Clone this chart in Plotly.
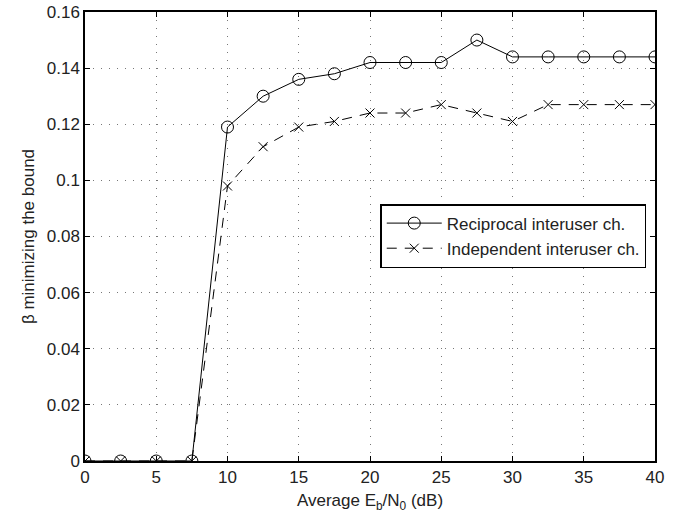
import plotly.graph_objects as go

snr_db = [0, 2.5, 5, 7.5, 10, 12.5, 15, 17.5, 20, 22.5, 25, 27.5, 30, 32.5, 35, 37.5, 40]
beta_reciprocal = [0, 0, 0, 0, 0.119, 0.130, 0.136, 0.138, 0.142, 0.142, 0.142, 0.150,
                   0.144, 0.144, 0.144, 0.144, 0.144]
beta_independent = [0, 0, 0, 0, 0.098, 0.112, 0.119, 0.121, 0.124, 0.124, 0.127, 0.124,
                    0.121, 0.127, 0.127, 0.127, 0.127]

x_ticks = [0, 5, 10, 15, 20, 25, 30, 35, 40]
y_ticks = [0, 0.02, 0.04, 0.06, 0.08, 0.1, 0.12, 0.14, 0.16]
y_labels = ["0", "0.02", "0.04", "0.06", "0.08", "0.1", "0.12", "0.14", "0.16"]

FONT = "Liberation Sans"

fig = go.Figure()
fig.add_trace(go.Scatter(
    x=snr_db, y=beta_reciprocal, name="Reciprocal interuser ch.",
    mode="lines+markers",
    line=dict(color="black", width=1),
    marker=dict(symbol="circle-open", size=12, color="black", line=dict(width=1)),
))
fig.add_trace(go.Scatter(
    x=snr_db, y=beta_independent, name="Independent interuser ch.",
    mode="lines+markers",
    line=dict(color="black", width=1, dash="10px,8px"),
    marker=dict(symbol="x-thin-open", size=9, color="black", line=dict(width=1, color="black")),
))

axis_common = dict(
    showline=True, linecolor="black", linewidth=1.5, mirror="ticks",
    ticks="inside", ticklen=5, tickcolor="black",
    showgrid=True, gridcolor="#777777", griddash="1px,7px", gridwidth=1,
    zeroline=False, automargin=False,
    tickfont=dict(family=FONT, size=17, color="#222222"),
)

fig.update_xaxes(
    range=[0, 40], tickvals=x_ticks,
    title=dict(text="Average E<sub>b</sub>/N<sub>0</sub> (dB)",
               font=dict(family=FONT, size=17, color="#222222"), standoff=8),
    **axis_common,
)
fig.update_yaxes(
    range=[0, 0.16], tickvals=y_ticks, ticktext=y_labels,
    title=dict(text="β minimizing the bound",
               font=dict(family=FONT, size=17, color="#222222"), standoff=8),
    **axis_common,
)

fig.update_layout(
    width=696, height=519,
    margin=dict(l=85, r=41, t=12, b=58),
    plot_bgcolor="white", paper_bgcolor="white",
    font=dict(family=FONT, size=17, color="#222222"),
    legend=dict(
        x=0.518, y=0.501, xanchor="left", yanchor="middle",
        bgcolor="white", bordercolor="black", borderwidth=1.5,
        font=dict(family=FONT, size=17, color="#222222"),
        itemwidth=55, tracegroupgap=0,
    ),
)

# drop the page's default 8px body margin so the figure sits at the top-left corner
fig.write_html("out.html", config={"displayModeBar": False},
               post_script="document.body.style.margin='0';")
